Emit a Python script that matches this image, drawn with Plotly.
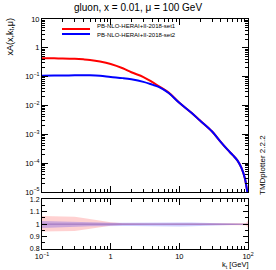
import plotly.graph_objects as go

# ---------------- data ----------------
kt = [0.1, 0.15, 0.2, 0.3, 0.4, 0.5, 0.7, 1, 1.5, 2, 3, 4, 5, 7, 10, 15, 20, 30, 40, 50, 60, 70, 80, 90, 95, 100]
set1 = [0.432, 0.432, 0.428, 0.415, 0.398, 0.38, 0.335, 0.275, 0.195, 0.142, 0.097, 0.066, 0.047, 0.028,
        0.0125, 5.6e-3, 3.0e-3, 1.25e-3, 5.5e-4, 3.0e-4, 1.9e-4, 1.25e-4, 7e-5, 3e-5, 1.5e-5, 7e-6]
set2 = [0.108, 0.109, 0.110, 0.111, 0.112, 0.112, 0.108, 0.098, 0.089, 0.081, 0.066, 0.053, 0.044, 0.027,
        0.0124, 5.6e-3, 3.0e-3, 1.25e-3, 5.5e-4, 3.0e-4, 1.9e-4, 1.25e-4, 7e-5, 3e-5, 1.5e-5, 7e-6]

set1_up = [1.065, 1.065, 1.063, 1.06, 1.05, 1.04, 1.025, 1.015, 1.008, 1.006, 1.005, 1.005, 1.005, 1.005,
           1.005, 1.005, 1.005, 1.005, 1.005, 1.005, 1.005, 1.005, 1.006, 1.008, 1.012, 1.03]
set1_dn = [0.94, 0.94, 0.942, 0.945, 0.955, 0.963, 0.975, 0.987, 0.993, 0.995, 0.995, 0.995, 0.995, 0.995,
           0.995, 0.995, 0.995, 0.995, 0.995, 0.995, 0.995, 0.995, 0.994, 0.992, 0.988, 0.97]
set2_up = [1.025, 1.022, 1.02, 1.018, 1.016, 1.015, 1.013, 1.012, 1.012, 1.013, 1.014, 1.015, 1.015, 1.015,
           1.014, 1.013, 1.012, 1.01, 1.008, 1.006, 1.005, 1.004, 1.003, 1.002, 1.002, 1.002]
set2_dn = [0.97, 0.975, 0.978, 0.98, 0.982, 0.983, 0.985, 0.987, 0.986, 0.985, 0.983, 0.982, 0.981, 0.981,
           0.982, 0.983, 0.985, 0.988, 0.99, 0.992, 0.994, 0.995, 0.996, 0.997, 0.998, 0.998]
ones = [1.0] * len(kt)

names = ["PB-NLO-HERAI+II-2018-set1", "PB-NLO-HERAI+II-2018-set2"]
title = "gluon, x = 0.01, \u03bc = 100 GeV"

x_tickvals = [0.1, 1, 10, 100]
x_ticktext = ["10<sup>\u22121</sup>", "1", "10", "10<sup>2</sup>"]
y_tickvals = [1e-5, 1e-4, 1e-3, 1e-2, 1e-1, 1, 10]
y_ticktext = ["10<sup>\u22125</sup>", "10<sup>\u22124</sup>", "10<sup>\u22123</sup>", "10<sup>\u22122</sup>",
              "10<sup>\u22121</sup>", "1", "10"]
r_tickvals = [0.8, 0.9, 1.0, 1.1, 1.2]
r_ticktext = ["0.8", "0.9", "1", "1.1", "1.2"]

# ---------------- figure ----------------
W, H = 276, 270
FONT = "Liberation Sans, Arial, Helvetica, sans-serif"

fig = go.Figure()

# ratio bands
fig.add_trace(go.Scatter(x=kt, y=set1_up, mode="lines", line=dict(width=0), showlegend=False,
                         xaxis="x2", yaxis="y2", hoverinfo="skip"))
fig.add_trace(go.Scatter(x=kt, y=set1_dn, mode="lines", line=dict(width=0), fill="tonexty",
                         fillcolor="rgba(255,0,0,0.18)", showlegend=False, xaxis="x2", yaxis="y2"))
fig.add_trace(go.Scatter(x=kt, y=set2_up, mode="lines", line=dict(width=0), showlegend=False,
                         xaxis="x2", yaxis="y2", hoverinfo="skip"))
fig.add_trace(go.Scatter(x=kt, y=set2_dn, mode="lines", line=dict(width=0), fill="tonexty",
                         fillcolor="rgba(0,0,255,0.2)", showlegend=False, xaxis="x2", yaxis="y2"))
fig.add_trace(go.Scatter(x=kt, y=ones, mode="lines", line=dict(width=1, color="rgba(110,60,160,0.5)"),
                         showlegend=False, xaxis="x2", yaxis="y2"))

# main curves
fig.add_trace(go.Scatter(x=kt, y=set1, mode="lines", line=dict(color="#ff0000", width=2, shape="spline"),
                         name=names[0], showlegend=False, xaxis="x", yaxis="y"))
fig.add_trace(go.Scatter(x=kt, y=set2, mode="lines", line=dict(color="#0000ff", width=2, shape="spline"),
                         name=names[1], showlegend=False, xaxis="x", yaxis="y"))

xdom = [42 / W, 248 / W]
ytop = [1 - 192 / H, 1 - 19 / H]
ybot = [1 - 249 / H, 1 - 199.3 / H]

minor_log_x = [m * 10 ** e for e in (-1, 0, 1) for m in range(2, 10)]
minor_log_y = [m * 10 ** e for e in range(-5, 1) for m in range(2, 10)]

axis_common = dict(showline=True, linecolor="black", linewidth=1, mirror="allticks", ticks="inside",
                   tickcolor="black", showgrid=False, zeroline=False, automargin=False)
tf = dict(family=FONT, size=7.5, color="black")
tfs = dict(family=FONT, size=7, color="black")

fig.update_layout(
    width=W, height=H,
    margin=dict(l=0, r=0, t=0, b=0, pad=0, autoexpand=False),
    paper_bgcolor="white", plot_bgcolor="white",
    showlegend=False,
    xaxis=dict(type="log", range=[-1, 2], domain=xdom, anchor="y", tickvals=x_tickvals,
               showticklabels=False, ticklen=6,
               minor=dict(tickvals=minor_log_x, ticks="inside", ticklen=3, tickcolor="black"),
               **axis_common),
    yaxis=dict(type="log", range=[-5, 1], domain=ytop, anchor="x", tickvals=y_tickvals,
               ticktext=y_ticktext, ticklen=6, tickfont=tf,
               minor=dict(tickvals=minor_log_y, ticks="inside", ticklen=3, tickcolor="black"),
               **axis_common),
    xaxis2=dict(type="log", range=[-1, 2], domain=xdom, anchor="y2", tickvals=x_tickvals,
                ticktext=x_ticktext, ticklen=6, tickfont=tf,
                minor=dict(tickvals=minor_log_x, ticks="inside", ticklen=3, tickcolor="black"),
                **axis_common),
    yaxis2=dict(range=[0.8, 1.2], domain=ybot, anchor="x2", tickvals=r_tickvals, ticktext=r_ticktext,
                ticklen=5, tickfont=tfs,
                minor=dict(dtick=0.05, ticks="inside", ticklen=3, tickcolor="black"),
                **axis_common),
)

ann = []
ann.append(dict(text=title, x=0.5, y=1 - 7.5 / H, xref="paper", yref="paper", xanchor="center",
                yanchor="middle", showarrow=False, font=dict(family=FONT, size=10, color="black")))
ann.append(dict(text="xA(x,k<sub>t</sub>,\u03bc)", x=10 / W, y=1 - 17 / H, xref="paper", yref="paper",
                xanchor="center", yanchor="top", textangle=-90, showarrow=False,
                font=dict(family=FONT, size=9, color="black")))
ann.append(dict(text="TMDplotter 2.2.2", x=262 / W, y=1 - 197 / H, xref="paper", yref="paper",
                xanchor="center", yanchor="bottom", textangle=-90, showarrow=False,
                font=dict(family=FONT, size=8, color="black")))
ann.append(dict(text="k<sub>t</sub> [GeV]", x=250 / W, y=1 - 264.5 / H, xref="paper", yref="paper",
                xanchor="right", yanchor="middle", showarrow=False,
                font=dict(family=FONT, size=7.5, color="black")))
# legend (text + line samples)
leg_text_y = [26.5, 34.5]
leg_line_y = [29, 34]
colors = ["#ff0000", "#0000ff"]
shapes = []
for nm, ty, ly, c in zip(names, leg_text_y, leg_line_y, colors):
    ann.append(dict(text=nm, x=96 / W, y=1 - ty / H, xref="paper", yref="paper", xanchor="left",
                    yanchor="middle", showarrow=False, borderpad=0,
                    font=dict(family=FONT, size=6, color="black")))
    shapes.append(dict(type="line", xref="paper", yref="paper", x0=62 / W, x1=90 / W,
                       y0=1 - ly / H, y1=1 - ly / H, line=dict(color=c, width=2)))

fig.update_layout(annotations=ann, shapes=shapes)

fig.write_html("out.html", config={"displayModeBar": False, "staticPlot": True},
               post_script="document.body.style.margin='0';document.body.style.overflow='hidden';")
